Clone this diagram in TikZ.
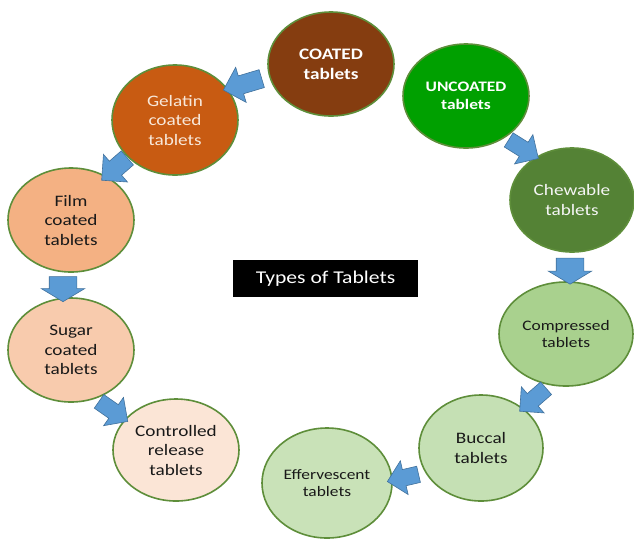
\documentclass[tikz,border=0pt]{standalone}
\usepackage{fontspec}
\setmainfont{Carlito}[FakeStretch=1.2]
\usetikzlibrary{shapes.geometric,shapes.arrows}
\definecolor{edgegreen}{HTML}{5E8E3A}
\definecolor{arrowblue}{HTML}{5B9BD5}
\definecolor{arrowedge}{HTML}{41719C}
\definecolor{cCoated}{HTML}{853D10}
\definecolor{cGelatin}{HTML}{C85B12}
\definecolor{cFilm}{HTML}{F4B183}
\definecolor{cSugar}{HTML}{F8CBAD}
\definecolor{cControl}{HTML}{FBE5D6}
\definecolor{cUncoated}{HTML}{00A000}
\definecolor{cChew}{HTML}{548235}
\definecolor{cComp}{HTML}{A9D18E}
\definecolor{cBuccal}{HTML}{C5E0B4}
\definecolor{cEffer}{HTML}{C9E2B8}
\definecolor{lighttext}{HTML}{F8E8DA}
\colorlet{rimin}{white}
\colorlet{rimout}{gray}
\pgfdeclareradialshading[rimin,rimout]{rimshade}{\pgfpointorigin}{color(0bp)=(rimin); color(33bp)=(rimin); color(50bp)=(rimout)}
\tikzset{
  tab/.style={ellipse, draw=edgegreen, line width=1.6pt, inner sep=0pt, align=center,
    /utils/exec={\colorlet{rimin}{#1}\colorlet{rimout}{#1!68!black}}, shading=rimshade,
    font=\fontsize{16}{19.5}\selectfont, text=black!90},
  small/.style={font=\fontsize{14.5}{17}\selectfont},
  boldtxt/.style={font=\fontsize{16}{20}\selectfont\bfseries, text=white},
  barrow/.style={single arrow, draw=arrowedge, fill=arrowblue, line width=0.6pt,
    inner xsep=0pt, inner ysep=9pt, minimum height=37pt, single arrow head extend=9pt},
  varrow/.style={single arrow, draw=arrowedge, fill=arrowblue, line width=0.6pt,
    inner xsep=0pt, inner ysep=13.5pt, minimum height=25pt, single arrow head extend=8pt,
    single arrow tip angle=118},
}
\begin{document}
\begin{tikzpicture}[x=1pt,y=-1pt]
\useasboundingbox (0,0) rectangle (634,539);
\fill[white] (0,0) rectangle (634,539);
% ellipses
\node[tab=cCoated, minimum width=126pt, minimum height=104pt, boldtxt] (coated) at (331,64) {COATED\\tablets};
\node[tab=cGelatin, minimum width=126pt, minimum height=110pt, text=lighttext] (gelatin) at (175,120) {Gelatin\\coated\\tablets};
\node[tab=cFilm, minimum width=126pt, minimum height=104pt] (film) at (71,220) {Film\\coated\\tablets};
\node[tab=cSugar, minimum width=126pt, minimum height=104pt] (sugar) at (71,350) {Sugar\\coated\\tablets};
\node[tab=cControl, minimum width=126pt, minimum height=102pt] (control) at (176,450) {Controlled\\release\\tablets};
\node[tab=cUncoated, minimum width=126pt, minimum height=104pt, boldtxt, font=\fontsize{14.5}{18}\selectfont\bfseries] (uncoated) at (466,96) {UNCOATED\\tablets};
\node[tab=cChew, minimum width=124pt, minimum height=104pt, text=white!96!black] (chew) at (572,200) {Chewable\\tablets};
\node[tab=cComp, minimum width=134pt, minimum height=104pt, small] (comp) at (566,334) {Compressed\\tablets};
\node[tab=cBuccal, minimum width=124pt, minimum height=106pt] (buccal) at (481,448) {Buccal\\tablets};
\node[tab=cEffer, minimum width=130pt, minimum height=110pt, small] (effer) at (327,483) {Effervescent\\tablets};
% title
\node[fill=black, text=white, minimum width=185pt, minimum height=37pt, inner sep=0pt,
  font=\fontsize{18}{20}\selectfont] (title) at (325.5,278.5) {Types of Tablets};
% block arrows
\node[barrow, rotate=196.6, minimum height=40pt] (a1) at (247,83) {};
\node[barrow, rotate=221, minimum height=34pt] (a2) at (118,166) {};
\node[varrow, rotate=270] (a3) at (63,285) {};
\node[barrow, rotate=-35, minimum height=35pt, inner ysep=8pt] (a4) at (110,409) {};
\node[barrow, rotate=-32, minimum height=35pt, inner ysep=8pt] (a5) at (520,147) {};
\node[varrow, rotate=270, minimum height=26pt] (a6) at (570,267) {};
\node[barrow, rotate=221, minimum height=35pt, inner ysep=8pt] (a7) at (536,397) {};
\node[barrow, rotate=193, minimum height=32pt, inner ysep=8pt] (a8) at (407,477) {};
\end{tikzpicture}
\end{document}
